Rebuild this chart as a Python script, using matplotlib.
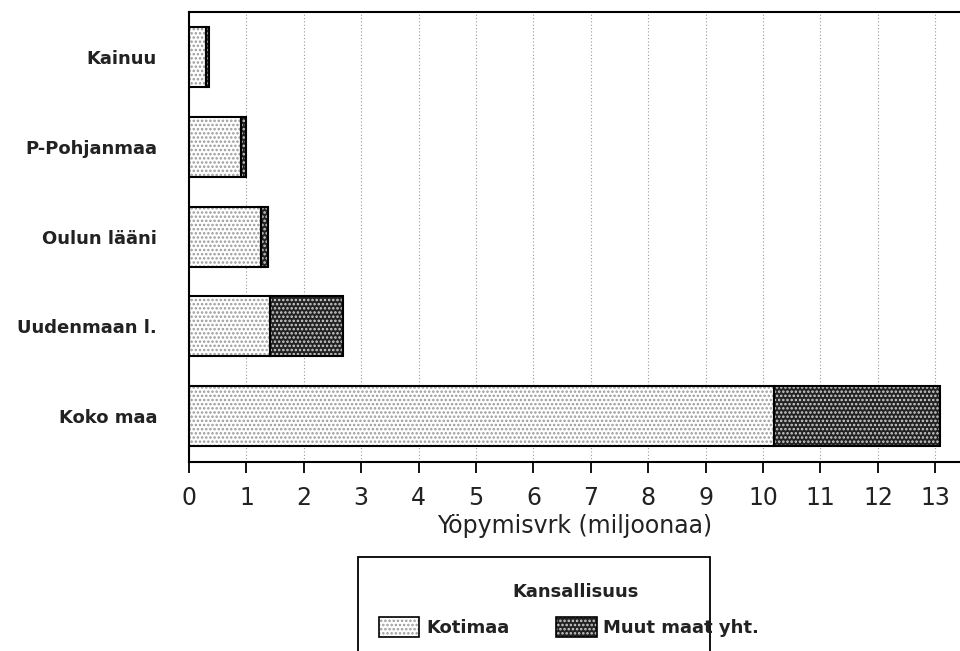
import numpy as np
import matplotlib
matplotlib.use("Agg")
import matplotlib.pyplot as plt
from matplotlib.patches import Rectangle

plt.rcParams['font.family'] = ['DejaVu Sans']
plt.rcParams['hatch.linewidth'] = 1.2

# overnight stays, millions
regions = ["Kainuu", "P-Pohjanmaa", "Oulun lääni", "Uudenmaan l.", "Koko maa"]
kotimaa = [0.30, 0.90, 1.25, 1.41, 10.19]
muut = [0.05, 0.09, 0.12, 1.27, 2.89]
xticks = list(range(0, 14))

dom_style = dict(facecolor="white", hatch="....", edgecolor="#9a9a9a", linewidth=0)
for_style = dict(facecolor="#222222", hatch="....", edgecolor="#d0d0d0", linewidth=0)

fig = plt.figure(figsize=(9.6, 6.51), dpi=100)
ax = fig.add_axes([189/960, 1-462/651, 1-189/960, (462-12)/651])

y = np.arange(len(regions))[::-1]
h = 0.667
ax.barh(y, kotimaa, height=h, zorder=2, **dom_style)
ax.barh(y, muut, left=kotimaa, height=h, zorder=2, **for_style)
# black outlines drawn separately so the hatch colour stays grey
ax.barh(y, kotimaa, height=h, fill=False, edgecolor="black", linewidth=1.5, zorder=3)
ax.barh(y, muut, left=kotimaa, height=h, fill=False, edgecolor="black", linewidth=1.5, zorder=3)

ax.set_xlim(0, 13.43)
ax.set_ylim(-0.51, 4.5)
ax.set_xticks(xticks)
ax.set_xticklabels([str(t) for t in xticks], fontsize=17)
ax.set_yticks(y)
ax.set_yticklabels(regions, fontsize=13, fontweight="bold", color="#222222")
ax.tick_params(axis="y", length=0, pad=23)
ax.tick_params(axis="x", length=8, width=1.3, direction="out", pad=9, labelcolor="#222222")
ax.xaxis.grid(True, linestyle=(0, (1, 2)), color="#999999", linewidth=0.8, zorder=0)
ax.set_axisbelow(True)
ax.set_xlabel("Yöpymisvrk (miljoonaa)", fontsize=17, labelpad=3, color="#222222")

for side in ["top", "left", "bottom"]:
    ax.spines[side].set_linewidth(1.5)
ax.spines["right"].set_visible(False)

# legend box, bottom runs off the figure
def px(x, yy):
    return x/960, 1-yy/651

x0, y0 = px(358, 668)
x1, y1 = px(710, 557)
fig.patches.append(Rectangle((x0, y0), x1-x0, y1-y0, transform=fig.transFigure,
                             fill=False, edgecolor="black", linewidth=1.3))
tx, ty = px(576, 592)
fig.text(tx, ty, "Kansallisuus", ha="center", va="center", fontsize=13, fontweight="bold",
         color="#222222")

for (lx, rx, txt_x, label, style) in [(379, 419, 426, "Kotimaa", dom_style),
                                       (556, 597, 603, "Muut maat yht.", for_style)]:
    a, b = px(lx, 637)
    c, d = px(rx, 617)
    fig.patches.append(Rectangle((a, b), c-a, d-b, transform=fig.transFigure, **style))
    fig.patches.append(Rectangle((a, b), c-a, d-b, transform=fig.transFigure,
                                 fill=False, edgecolor="black", linewidth=1.2))
    p, q = px(txt_x, 628)
    fig.text(p, q, label, ha="left", va="center", fontsize=13, fontweight="bold",
             color="#222222")

fig.savefig("out.png", dpi=100)
